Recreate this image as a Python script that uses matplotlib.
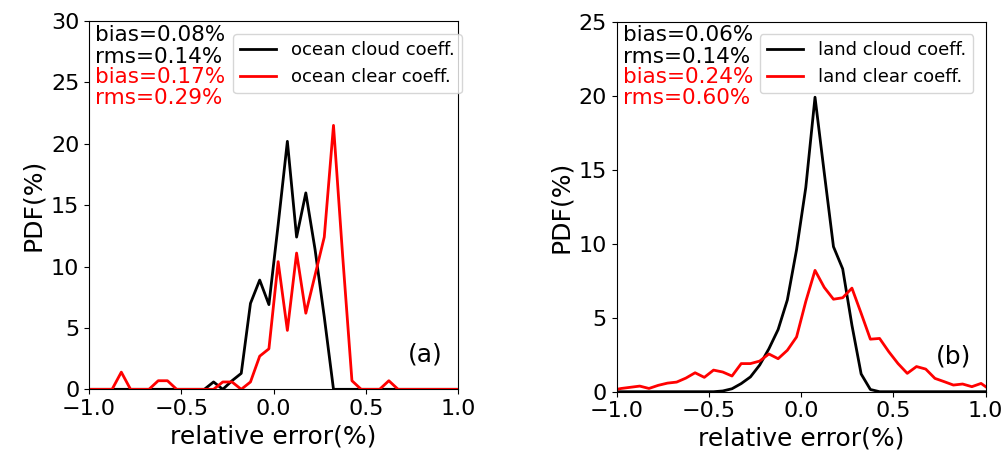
import matplotlib
matplotlib.use('Agg')
import matplotlib.pyplot as plt
import numpy as np

# bin centres of the relative error histograms (%)
centres = np.round(np.arange(-1.025, 1.026, 0.05), 3)

# PDF(%) per bin
ocean_cloud = [0, 0, 0, 0, 0, 0, 0, 0, 0, 0, 0, 0, 0, 0,
               0.6, 0, 0.7, 1.3, 7.0, 8.9, 6.9, 13.4, 20.2, 12.4, 16.0, 11.4, 5.9,
               0, 0, 0, 0, 0, 0, 0, 0, 0, 0, 0, 0, 0, 0, 0]
ocean_clear = [0, 0, 0, 0, 1.4, 0, 0, 0, 0.7, 0.7, 0, 0, 0, 0,
               0, 0.6, 0.6, 0, 0.6, 2.7, 3.3, 10.4, 4.8, 11.1, 6.2, 9.3, 12.4,
               21.5, 10.8, 0.7, 0, 0, 0, 0.7, 0, 0, 0, 0, 0, 0, 0, 0]
land_cloud = [0, 0, 0, 0, 0, 0, 0, 0, 0, 0, 0, 0, 0.05, 0.2,
              0.55, 1.0, 1.8, 2.9, 4.2, 6.2, 9.6, 13.8, 19.9, 14.8, 9.8, 8.3, 4.5,
              1.2, 0.15, 0, 0, 0, 0, 0, 0, 0, 0, 0, 0, 0, 0, 0]
land_clear = [0.1, 0.22, 0.3, 0.38, 0.22, 0.43, 0.58, 0.65, 0.92, 1.28, 0.97, 1.46, 1.33, 1.06,
              1.9, 1.9, 2.07, 2.55, 2.23, 2.8, 3.7, 6.1, 8.2, 7.05, 6.25, 6.35, 7.0,
              5.3, 3.55, 3.6, 2.7, 1.9, 1.24, 1.7, 1.53, 0.9, 0.68, 0.45, 0.52, 0.34, 0.56, 0.12]

ocean_stats = ['bias=0.08%', 'rms=0.14%', 'bias=0.17%', 'rms=0.29%']
land_stats = ['bias=0.06%', 'rms=0.14%', 'bias=0.24%', 'rms=0.60%']

fig = plt.figure(figsize=(10.06, 4.59), dpi=100)
ax1 = fig.add_axes([0.0885, 0.1518, 0.3668, 0.8024])
ax2 = fig.add_axes([0.613, 0.1466, 0.3668, 0.806])

panels = [
    (ax1, ocean_cloud, ocean_clear, 'ocean cloud coeff.', 'ocean clear coeff.',
     ocean_stats, 30, '(a)', (1.01, 0.965), [0.962, 0.902, 0.848, 0.791]),
    (ax2, land_cloud, land_clear, 'land cloud coeff.', 'land clear coeff.',
     land_stats, 25, '(b)', (0.966, 0.967), [0.964, 0.905, 0.851, 0.795]),
]

for ax, cloud, clear, lab1, lab2, stats, ymax, tag, anchor, ys in panels:
    ax.plot(centres, cloud, color='k', lw=2, label=lab1)
    ax.plot(centres, clear, color='r', lw=2, label=lab2)
    ax.set_xlim(-1, 1)
    ax.set_ylim(0, ymax)
    ax.set_xticks([-1.0, -0.5, 0.0, 0.5, 1.0])
    ax.set_yticks(np.arange(0, ymax + 1, 5))
    ax.tick_params(labelsize=16)
    ax.set_xlabel('relative error(%)', fontsize=18)
    ax.set_ylabel('PDF(%)', fontsize=18)
    ax.legend(loc='upper right', bbox_to_anchor=anchor, borderaxespad=0,
              fontsize=13)
    for txt, y, c in zip(stats, ys, ['k', 'k', 'r', 'r']):
        ax.text(0.016, y, txt, color=c, fontsize=15.5, va='center',
                transform=ax.transAxes)
    ax.text(0.912, 0.095, tag, fontsize=18, ha='center', va='center',
            transform=ax.transAxes)

fig.savefig('out.png', dpi=100)
